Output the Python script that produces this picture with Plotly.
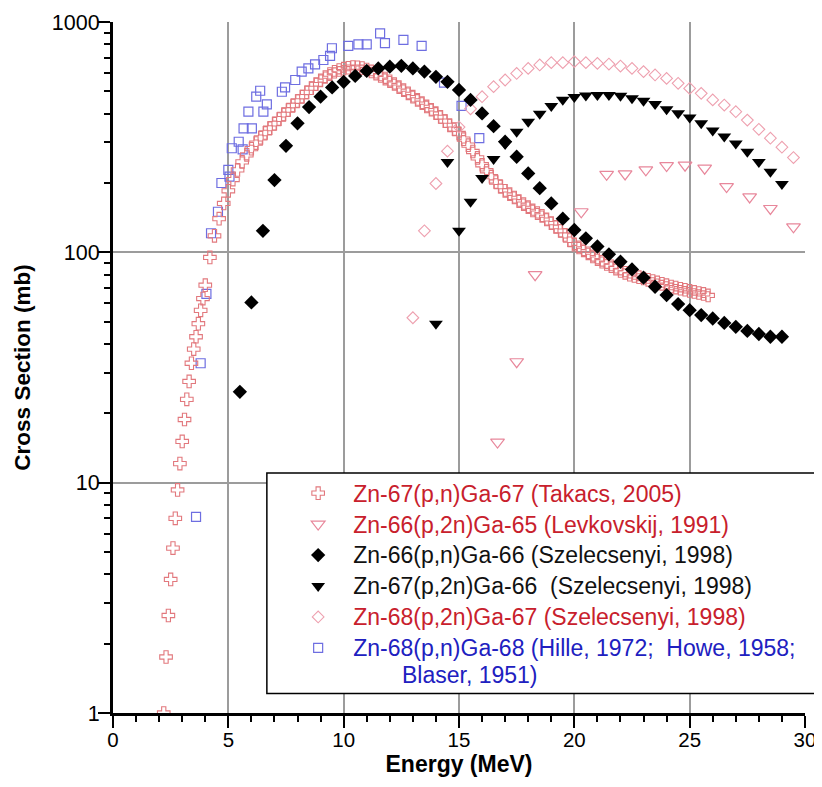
import plotly.graph_objects as go

# ---------------- data ----------------
x_ticks = [0, 5, 10, 15, 20, 25, 30]
x_tick_labels = ["0", "5", "10", "15", "20", "25", "30"]
y_ticks = [1, 10, 100, 1000]
y_tick_labels = ["1", "10", "100", "1000"]
y_minor = [2, 3, 4, 5, 6, 7, 8, 9, 20, 30, 40, 50, 60, 70, 80, 90,
           200, 300, 400, 500, 600, 700, 800, 900]

# Zn-67(p,n)Ga-67 (Takacs, 2005)
tak_e = [2.2, 2.3, 2.4, 2.5, 2.6, 2.7, 2.8, 2.9, 3.0, 3.1,
         3.2, 3.3, 3.4, 3.5, 3.6, 3.7, 3.8, 3.9, 4.0, 4.2,
         4.4, 4.6, 4.8, 5.0, 5.2, 5.4, 5.6, 5.8, 6.0, 6.2,
         6.4, 6.6, 6.8, 7.0, 7.2, 7.4, 7.6, 7.8, 8.0, 8.2,
         8.4, 8.6, 8.8, 9.0, 9.2, 9.4, 9.6, 9.8, 10.0, 10.2,
         10.4, 10.6, 10.8, 11.0, 11.2, 11.4, 11.6, 11.8, 12.0, 12.2,
         12.4, 12.6, 12.8, 13.0, 13.2, 13.4, 13.6, 13.8, 14.0, 14.2,
         14.4, 14.6, 14.8, 15.0, 15.2, 15.4, 15.6, 15.8, 16.0, 16.2,
         16.4, 16.6, 16.8, 17.0, 17.2, 17.4, 17.6, 17.8, 18.0, 18.2,
         18.4, 18.6, 18.8, 19.0, 19.2, 19.4, 19.6, 19.8, 20.0, 20.2,
         20.4, 20.6, 20.8, 21.0, 21.2, 21.4, 21.6, 21.8, 22.0, 22.2,
         22.4, 22.6, 22.8, 23.0, 23.2, 23.4, 23.6, 23.8, 24.0, 24.2,
         24.4, 24.6, 24.8, 25.0, 25.2, 25.4, 25.6, 25.8]
tak_s = [1.0, 1.75, 2.65, 3.8, 5.2, 7.0, 9.3, 12.1, 15.1, 18.8,
         23, 27.5, 33, 38, 43, 49, 56, 63, 72, 95,
         118, 140, 163, 185, 207, 228, 247, 265, 282, 298,
         314, 330, 346, 362, 379, 397, 415, 434, 454, 474,
         495, 516, 537, 558, 577, 594, 608, 619, 627, 633,
         637, 636, 631, 622, 610, 597, 583, 568, 553, 538,
         522, 506, 490, 474, 459, 444, 430, 416, 402, 387,
         371, 356, 343, 328, 310, 292, 274, 257, 240, 226,
         213, 202, 193, 185, 179, 173, 167, 162, 157, 152,
         148, 144, 139, 134, 129, 124, 119, 113, 108, 105,
         102, 99, 96, 93.5, 91, 89, 87, 85, 83, 81.5,
         80, 79, 78, 77, 76, 75, 74, 73, 72, 71,
         70.3, 69.5, 68.8, 68, 67.3, 66.6, 66, 65]

# Zn-66(p,2n)Ga-65 (Levkovskij, 1991)
lev_e = [16.67, 17.5, 18.3, 20.3, 21.4, 22.2, 23.1, 24.0, 24.8, 25.65, 26.6, 27.6, 28.5, 29.5]
lev_s = [15, 33.5, 80, 150, 218, 219, 228, 238, 239, 232, 193, 174, 155, 129]

# Zn-66(p,n)Ga-66 (Szelecsenyi, 1998)
s66_e = [5.5, 6.0, 6.5, 7.0, 7.5, 8.0, 8.5, 9.0, 9.5, 10.0,
         10.5, 11.0, 11.5, 12.0, 12.5, 13.0, 13.5, 14.0, 14.5, 15.0,
         15.5, 16.0, 16.5, 17.0, 17.5, 18.0, 18.5, 19.0, 19.5, 20.0,
         20.5, 21.0, 21.5, 22.0, 22.5, 23.0, 23.5, 24.0, 24.5, 25.0,
         25.5, 26.0, 26.5, 27.0, 27.5, 28.0, 28.5, 29.0]
s66_s = [24.8, 60.6, 124, 206, 290, 363, 427, 474, 520, 550,
         583, 613, 629, 640, 645, 629, 609, 578, 550, 507,
         459, 401, 353, 302, 260, 220, 190, 163, 140, 125,
         115, 106, 98, 91, 84.3, 77.6, 70.9, 65.2, 59.6, 56.1,
         53.4, 51.6, 49.4, 47.5, 45.6, 44.2, 43.0, 43.0]

# Zn-67(p,2n)Ga-66 (Szelecsenyi, 1998)
s67_e = [14.0, 14.5, 15.0, 15.5, 16.0, 16.5, 17.0, 17.5, 18.0, 18.5,
         19.0, 19.5, 20.0, 20.5, 21.0, 21.5, 22.0, 22.5, 23.0, 23.5,
         24.0, 24.5, 25.0, 25.5, 26.0, 26.5, 27.0, 27.5, 28.0, 28.5, 29.0]
s67_s = [49, 247, 124, 166, 210, 254, 295, 334, 369, 400,
         432, 460, 472, 480, 482, 482, 478, 467, 455, 440,
         418, 402, 385, 363, 338, 318, 297, 273, 247, 224, 198]

# Zn-68(p,2n)Ga-67 (Szelecsenyi, 1998)
s68_e = [13.0, 13.5, 14.0, 14.5, 15.0, 15.5, 16.0, 16.5, 17.0, 17.5,
         18.0, 18.5, 19.0, 19.5, 20.0, 20.5, 21.0, 21.5, 22.0, 22.5,
         23.0, 23.5, 24.0, 24.5, 25.0, 25.5, 26.0, 26.5, 27.0, 27.5,
         28.0, 28.5, 29.0, 29.5]
s68_s = [52, 124, 199, 275, 350, 420, 474, 524, 560, 598,
         629, 651, 666, 666, 673, 666, 661, 657, 644, 629,
         609, 589, 569, 542, 515, 490, 459, 436, 408, 375,
         342, 313, 286, 258]

# Zn-68(p,n)Ga-68 (Hille 1972; Howe 1958; Blaser 1951)
h68_e = [3.6, 3.8, 4.05, 4.25, 4.55, 4.7, 5.0, 5.05, 5.15, 5.45,
         5.62, 5.66, 6.02, 5.87, 6.52, 6.67, 6.21, 6.38, 7.32, 7.46,
         7.9, 8.18, 8.47, 8.76, 9.12, 9.41, 9.49, 10.2, 10.64, 11.0,
         11.58, 11.79, 12.59, 13.38, 14.35, 15.11, 15.88]
h68_s = [7.1, 33, 66, 121, 150, 200, 228, 213, 283, 302,
         280, 345, 345, 408, 408, 439, 474, 503, 498, 520,
         560, 609, 629, 655, 684, 713, 769, 787, 800, 800,
         893, 809, 836, 787, 545, 432, 313]

RED = "#c8202c"
BLUE = "#2020c0"
BLK = "#111111"
LEG_PX = 23   # legend glyph size in px (row spacing is set by legend font size)


def label(text, color):
    return f'<span style="color:{color};font-size:{LEG_PX}px">{text}</span>'


names = [
    label("Zn-67(p,n)Ga-67 (Takacs, 2005)", RED),
    label("Zn-66(p,2n)Ga-65 (Levkovskij, 1991)", RED),
    label("Zn-66(p,n)Ga-66 (Szelecsenyi, 1998)", BLK),
    label("Zn-67(p,2n)Ga-66 \u00a0(Szelecsenyi, 1998)", BLK),
    label("Zn-68(p,2n)Ga-67 (Szelecsenyi, 1998)", RED),
    label("Zn-68(p,n)Ga-68 (Hille, 1972; \u00a0Howe, 1958;", BLUE),
]

fig = go.Figure()

fig.add_trace(go.Scatter(x=h68_e, y=h68_s, mode="markers", name=names[5], legendrank=6,
                         marker=dict(symbol="square-open", size=9, color="rgb(110,110,225)",
                                     line=dict(width=1.2))))
fig.add_trace(go.Scatter(x=tak_e, y=tak_s, mode="markers", name=names[0], legendrank=1,
                         marker=dict(symbol="cross-open", size=10.5, color="rgb(226,120,125)",
                                     line=dict(width=1.1))))
fig.add_trace(go.Scatter(x=s68_e, y=s68_s, mode="markers", name=names[4], legendrank=5,
                         marker=dict(symbol="diamond-open", size=9, color="rgb(238,160,175)",
                                     line=dict(width=1.1))))
fig.add_trace(go.Scatter(x=lev_e, y=lev_s, mode="markers", name=names[1], legendrank=2,
                         marker=dict(symbol="triangle-down-open", size=12, color="rgb(232,135,155)",
                                     line=dict(width=1.2))))
fig.add_trace(go.Scatter(x=s67_e, y=s67_s, mode="markers", name=names[3], legendrank=4,
                         marker=dict(symbol="triangle-down", size=12, color="black")))
fig.add_trace(go.Scatter(x=s66_e, y=s66_s, mode="markers", name=names[2], legendrank=3,
                         marker=dict(symbol="diamond", size=11, color="black")))

FONT = "Liberation Sans, Arial, Helvetica, sans-serif"
OFF = 8                                       # page body margin of the html page
PL, PT, PW, PH = 112.7, 22.0, 692.6, 690.7    # target plot-area geometry in window px


def px_x(p):
    return (p - PL) / PW


def px_y(p):
    return (PT + PH - p) / PH


FIG_W, FIG_H = 814, 779
fig.update_layout(
    width=FIG_W, height=FIG_H,
    margin=dict(l=PL - OFF, r=FIG_W + OFF - (PL + PW), t=PT - OFF,
                b=FIG_H + OFF - (PT + PH), autoexpand=False),
    paper_bgcolor="white", plot_bgcolor="white",
    font=dict(family=FONT, color="black"),
    showlegend=True,
    legend=dict(x=px_x(283), y=px_y(472.5), xanchor="left", yanchor="top",
                bgcolor="rgba(0,0,0,0)", borderwidth=0, itemwidth=60,
                font=dict(family=FONT, size=21.5), tracegroupgap=0),
    shapes=[dict(type="rect", xref="paper", yref="paper",
                 x0=px_x(266.7), x1=px_x(820.5), y0=px_y(693.3), y1=px_y(472.7),
                 line=dict(color="black", width=1.5), fillcolor="white", layer="above")],
    annotations=[dict(text="Blaser, 1951)", xref="paper", yref="paper",
                      x=px_x(400), y=px_y(674.5),
                      xanchor="left", yanchor="middle", showarrow=False,
                      font=dict(family=FONT, size=LEG_PX, color=BLUE))],
)

fig.update_xaxes(
    range=[0, 30], tickmode="array", tickvals=x_ticks, ticktext=x_tick_labels,
    showgrid=True, gridcolor="#9c9c9c", gridwidth=1.5, zeroline=False, automargin=False,
    showline=True, linecolor="black", linewidth=3,
    ticks="outside", ticklen=12, tickwidth=2, tickcolor="black",
    ticklabelstandoff=-6,
    tickfont=dict(family=FONT, size=20.5, color="black"),
    minor=dict(tickmode="linear", tick0=0, dtick=1, ticks="outside", ticklen=6,
               tickwidth=2, tickcolor="black", showgrid=False),
    title=dict(text="<b>Energy (MeV)</b>", font=dict(family=FONT, size=23), standoff=7),
)
fig.update_yaxes(
    type="log", range=[0, 3], tickmode="array", tickvals=y_ticks, ticktext=y_tick_labels,
    showgrid=True, gridcolor="#9c9c9c", gridwidth=1.5, zeroline=False, automargin=False,
    showline=True, linecolor="black", linewidth=3,
    ticks="outside", ticklen=12, tickwidth=2, tickcolor="black",
    ticklabelstandoff=-6,
    tickfont=dict(family=FONT, size=21.5, color="black"),
    minor=dict(tickmode="array", tickvals=y_minor, ticks="outside", ticklen=6,
               tickwidth=2, tickcolor="black", showgrid=False),
    title=dict(text="<b>Cross Section (mb)</b>", font=dict(family=FONT, size=22.5), standoff=15),
)

fig.write_html("out.html")
